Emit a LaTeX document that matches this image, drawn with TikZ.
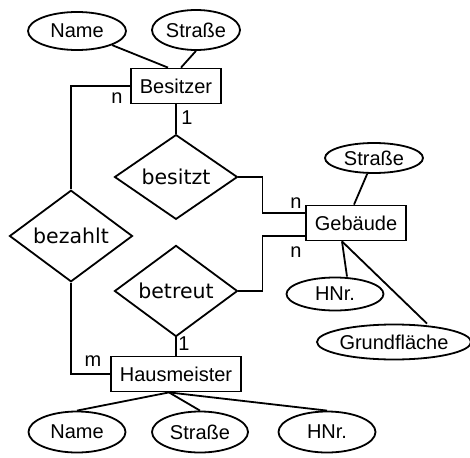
\documentclass[tikz,border=0pt]{standalone}
\usepackage{fontspec}
\setmainfont{Liberation Sans}
\newfontfamily\dejavu{DejaVu Sans}
\usetikzlibrary{shapes.geometric}

\begin{document}
\begin{tikzpicture}[x=1pt, y=-1pt, line width=1.8pt,
        font=\fontsize{20}{22}\selectfont,
        entity/.style = {rectangle, draw,
            minimum height=35pt, inner xsep=9pt},
        attr/.style = {ellipse, draw,
            minimum width=97pt, minimum height=38pt, inner sep=0pt},
        relation/.style = {diamond, draw,
            minimum width=123pt, minimum height=75pt, inner sep=0pt,
            font=\dejavu\fontsize{20.5}{22}\selectfont},
        card/.style = {inner sep=0pt}]

        \useasboundingbox (0,0) rectangle (470,457);

        % Entities
        \node[entity] (Besitzer) at (176,86) {Besitzer};
        \node[entity] (Gebaeude) at (356,223) {Gebäude};
        \node[entity] (Hausmeister) at (176,374) {Hausmeister};

        % Relations
        \node[relation] (besitzt) at (176,177) {besitzt};
        \node[relation] (bezahlt) at (71,236) {bezahlt};
        \node[relation] (betreut) at (176,291) {betreut};

        % Attributes Besitzer
        \node[attr, minimum width=98pt] (NameB) at (77,31) {Name};
        \node[attr, minimum width=88pt, minimum height=40pt] (StrasseB) at (196,30) {Straße};

        % Attributes Gebaeude
        \node[attr, minimum width=98pt, minimum height=30pt] (StrasseG) at (374,158) {Straße};
        \node[attr, minimum height=33pt] (HNrG) at (335,294) {HNr.};
        \node[attr, minimum width=148pt, minimum height=35pt] (Grund) at (394,342) {Grundfläche};

        % Attributes Hausmeister
        \node[attr, minimum height=41pt] (NameH) at (77,432) {Name};
        \node[attr, minimum width=96pt, minimum height=41pt] (StrasseH) at (200,432) {Straße};
        \node[attr, minimum height=41pt] (HNrH) at (327,432) {HNr.};

        % Attribute lines
        \draw (NameB) -- ([xshift=-8pt]Besitzer.north);
        \draw (StrasseB.south) -- ([xshift=5pt]Besitzer.north);
        \draw (StrasseG) -- ([xshift=-2pt]Gebaeude.north);
        \draw ([xshift=-14pt]Gebaeude.south) -- ([xshift=12pt]HNrG.north);
        \draw ([xshift=-14pt]Gebaeude.south) -- ([xshift=33pt]Grund.north);
        \draw ([xshift=-7pt]Hausmeister.south) -- (NameH.north);
        \draw ([xshift=-7pt]Hausmeister.south) -- (StrasseH.north);
        \draw ([xshift=-7pt]Hausmeister.south) -- (HNrH.north);

        % Relation lines
        \draw (Besitzer.south) -- (besitzt.north);
        \draw (besitzt.east) -- ++(24,0) |- ([yshift=10pt]Gebaeude.west);
        \draw (betreut.east) -- ++(24,0) |- ([yshift=-13pt]Gebaeude.west);
        \draw (betreut.south) -- (Hausmeister.north);
        \draw (Besitzer.west) -| (bezahlt.north);
        \draw (bezahlt.south) |- (Hausmeister.west);

        % Cardinalities
        \node[card] (cBn) at (117,98) {n};
        \node[card] (cB1) at (187,118) {1};
        \node[card] (cG1) at (296,203) {n};
        \node[card] (cG2) at (296,252) {n};
        \node[card] (cHm) at (93,361) {m};
        \node[card] (cH1) at (184,344) {1};
    \end{tikzpicture}
\end{document}
